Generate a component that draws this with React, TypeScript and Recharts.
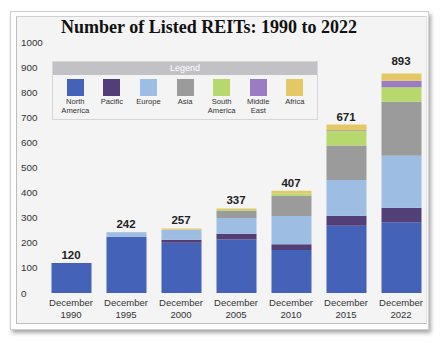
import React from 'react';
import { ComposedChart, Bar, Line, XAxis, YAxis, LabelList } from 'recharts';

const categories = ['December 1990', 'December 1995', 'December 2000', 'December 2005', 'December 2010', 'December 2015', 'December 2022'];
const northAmerica = [120, 224, 200, 213, 171, 268, 282];
const pacific = [0, 0, 12, 23, 23, 40, 58];
const europe = [0, 18, 40, 63, 113, 142, 207];
const asia = [0, 0, 0, 29, 80, 138, 215];
const southAmerica = [0, 0, 0, 3, 9, 57, 58];
const middleEast = [0, 0, 0, 0, 0, 3, 26];
const africa = [0, 0, 5, 6, 11, 23, 29];
const totals = [120, 242, 257, 337, 407, 671, 893];
const yTicks = [0, 100, 200, 300, 400, 500, 600, 700, 800, 900, 1000];

const series = [
  { key: 'na', name: 'North America', color: '#4462b8' },
  { key: 'pac', name: 'Pacific', color: '#533f78' },
  { key: 'eur', name: 'Europe', color: '#9dbde2' },
  { key: 'asia', name: 'Asia', color: '#9b9b9b' },
  { key: 'sa', name: 'South America', color: '#b6d86c' },
  { key: 'me', name: 'Middle East', color: '#9b7cc2' },
  { key: 'af', name: 'Africa', color: '#e5c866' },
];

const data = categories.map((c, i) => ({
  name: c,
  na: northAmerica[i],
  pac: pacific[i],
  eur: europe[i],
  asia: asia[i],
  sa: southAmerica[i],
  me: middleEast[i],
  af: africa[i],
  total: totals[i],
}));

const sans = '"Liberation Sans", Arial, sans-serif';

const XTick = (props: any) => {
  const { x, y, payload } = props;
  const parts = String(payload.value).split(' ');
  return (
    <text x={x} y={y} textAnchor="middle" fontFamily={sans} fontSize={9.5} fill="#333">
      <tspan x={x} dy={5}>{parts[0]}</tspan>
      <tspan x={x} dy={11.5}>{parts[1]}</tspan>
    </text>
  );
};

const YTick = (props: any) => {
  const { y, payload } = props;
  return (
    <text x={21} y={y + 3.5} textAnchor="start" fontFamily={sans} fontSize={9.8} fill="#333">
      {payload.value}
    </text>
  );
};

const LegendBox = () => (
  <div
    style={{
      position: 'absolute',
      left: 52,
      top: 61,
      width: 264,
      height: 57,
      border: '1px solid #d6d6d6',
      background: '#f4f4f4',
      fontFamily: sans,
    }}
  >
    <div
      style={{
        height: 13,
        background: '#c2c1c6',
        color: '#fff',
        fontSize: 9,
        lineHeight: '13px',
        textAlign: 'center',
      }}
    >
      Legend
    </div>
    <div style={{ display: 'flex', paddingLeft: 4 }}>
      {series.map((s) => (
        <div key={s.key} style={{ width: 36.6, display: 'flex', flexDirection: 'column', alignItems: 'center' }}>
          <div style={{ width: 17, height: 17, background: s.color, marginTop: 4 }} />
          <div style={{ fontSize: 7.6, lineHeight: '9px', color: '#333', textAlign: 'center', marginTop: 1, width: 40 }}>
            {s.name.split(' ').map((w, i) => (
              <div key={i}>{w}</div>
            ))}
          </div>
        </div>
      ))}
    </div>
  </div>
);

export default function App() {
  return (
    <div style={{ position: 'absolute', left: 0, top: 0, width: 444, height: 343, background: '#fff' }}>
      <div
        style={{
          position: 'absolute',
          left: 10,
          top: 11,
          width: 417,
          height: 317,
          background: '#fdfdfd',
          border: '1px solid #cfcfcf',
          boxShadow: '2px 3px 4px rgba(0,0,0,0.35)',
        }}
      />
      <div
        style={{
          position: 'absolute',
          left: 16,
          top: 16,
          width: 409,
          height: 306,
          background: '#f4f4f4',
          borderLeft: '1px solid #bdbdbd',
          borderTop: '1px solid #d0d0d0',
          borderRight: '1px solid #e0e0e0',
          borderBottom: '1px solid #bdbdbd',
        }}
      />
      <div
        style={{
          position: 'absolute',
          left: 0,
          top: 17,
          width: 418,
          textAlign: 'center',
          fontFamily: '"Liberation Serif", "Times New Roman", serif',
          fontWeight: 'bold',
          fontSize: 18,
          color: '#111',
        }}
      >
        Number of Listed REITs: 1990 to 2022
      </div>
      <div style={{ position: 'absolute', left: 0, top: 0 }}>
        <ComposedChart
          width={444}
          height={343}
          data={data}
          margin={{ top: 42, right: 15.5, bottom: 20, left: 13.5 }}
          barSize={40}
        >
          <XAxis dataKey="name" axisLine={false} tickLine={false} interval={0} height={30} tick={<XTick />} />
          <YAxis
            domain={[0, 1000]}
            ticks={yTicks}
            axisLine={false}
            tickLine={false}
            width={30}
            tick={<YTick />}
          />
          {series.map((s) => (
            <Bar key={s.key} dataKey={s.key} name={s.name} stackId="r" fill={s.color} isAnimationActive={false} />
          ))}
          <Line dataKey="total" stroke="none" dot={false} activeDot={false} legendType="none" isAnimationActive={false}>
            <LabelList dataKey="total" position="top" offset={4} fontFamily={sans} fontWeight="bold" fontSize={11.5} fill="#222" />
          </Line>
        </ComposedChart>
      </div>
      <LegendBox />
    </div>
  );
}
